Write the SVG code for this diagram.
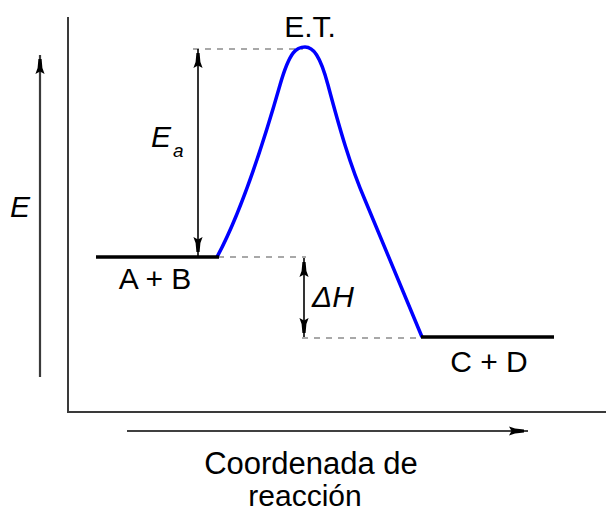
<svg xmlns="http://www.w3.org/2000/svg" width="608" height="513" viewBox="0 0 608 513">
<style>
.axis{stroke:#3a3a3a;stroke-width:2;fill:none}
.arr{stroke:#000;stroke-width:1.6;fill:none}
.earr{stroke:#3a3a3a;stroke-width:2.2;fill:none}
.dash{stroke:#8c8c8c;stroke-width:1.6;stroke-dasharray:6 6;fill:none}
.level{stroke:#000;stroke-width:3.5;fill:none}
.curve{stroke:#0000ff;stroke-width:3.5;fill:none;stroke-linejoin:round}
text{font-family:"Liberation Sans",Arial,sans-serif;font-size:30px;fill:#000}
.it{font-style:italic}
</style>
<defs>
<marker id="ah" markerUnits="userSpaceOnUse" viewBox="-18 -6 22 12" refX="4" refY="0" markerWidth="22" markerHeight="12" orient="auto-start-reverse">
<path d="M0,-1.6 L-9,-2.4 L-15,-4.6 L-12.5,0 L-15,4.6 L-9,2.4 L0,1.6 Z" fill="#000"/>
</marker>
</defs>
<g id="axes">
<line class="axis" x1="68" y1="17" x2="68" y2="412"/>
<line class="axis" x1="67" y1="412" x2="606" y2="412"/>
</g>
<g id="connectors">
<line class="earr" x1="40" y1="377" x2="40" y2="55" marker-end="url(#ah)"/>
<line class="arr" x1="127" y1="431" x2="528" y2="431" marker-end="url(#ah)"/>
<line class="dash" x1="193" y1="49" x2="303" y2="49"/>
<line class="dash" x1="218" y1="257" x2="306" y2="257"/>
<line class="dash" x1="302" y1="338" x2="421" y2="338"/>
<line class="arr" x1="198" y1="49" x2="198" y2="256" marker-start="url(#ah)" marker-end="url(#ah)"/>
<line class="arr" x1="304" y1="258" x2="304" y2="337" marker-start="url(#ah)" marker-end="url(#ah)"/>
</g>
<g id="curve">
<path class="curve" d="M217,257 C245,205 270,120 280,85 C290,50 297,47 305,47 C313,47 320,55 328,85 C340,130 350,165 365,200 L422,337"/>
</g>
<g id="reactants">
<line class="level" x1="96" y1="257" x2="219" y2="257"/>
<text x="155" y="289" text-anchor="middle">A + B</text>
</g>
<g id="products">
<line class="level" x1="421" y1="337" x2="554" y2="337"/>
<text x="489" y="372" text-anchor="middle">C + D</text>
</g>
<g id="ts">
<text x="310" y="37" text-anchor="middle">E.T.</text>
</g>
<g id="labels">
<text class="it" x="10" y="217">E</text>
<text class="it" x="151" y="147">E</text>
<text class="it" x="173" y="157" style="font-size:19px">a</text>
<text class="it" x="312" y="307">ΔH</text>
<text x="311" y="474" text-anchor="middle" style="font-size:31px">Coordenada de</text>
<text x="305" y="506" text-anchor="middle" style="font-size:30px">reacción</text>
</g>
</svg>
